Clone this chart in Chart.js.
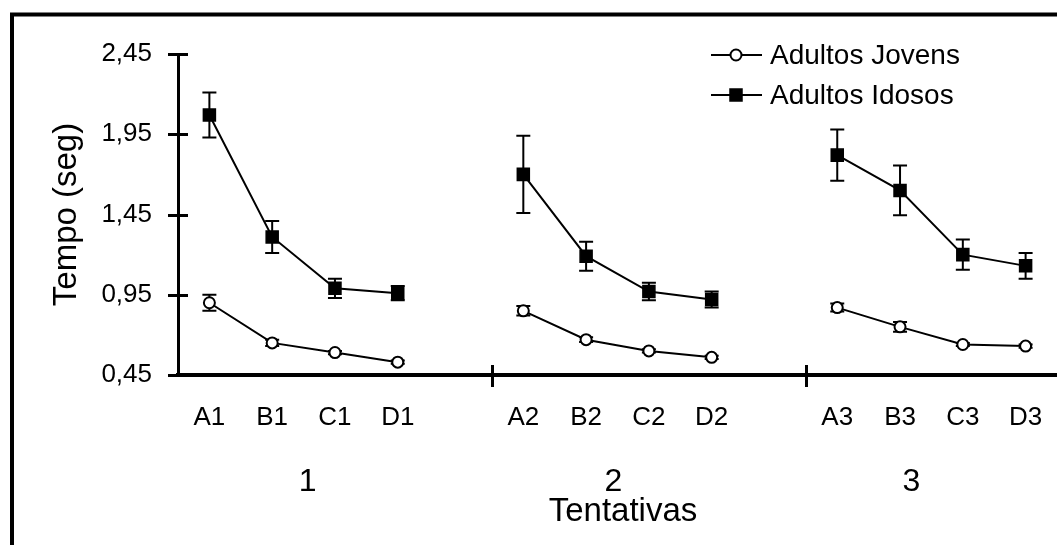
<!DOCTYPE html>
<html>
<head>
<meta charset="utf-8">
<script src="https://cdn.jsdelivr.net/npm/chart.js@4.4.1/dist/chart.umd.min.js"></script>
<style>
  html, body { margin: 0; padding: 0; background: #fff; }
  #wrap { width: 1057px; height: 545px; position: relative; }
</style>
</head>
<body>
<div id="wrap"><canvas id="c" width="1057" height="545"></canvas></div>
<script>
// Conditions inside each trial block, and the trial blocks themselves
const conditions = ['A', 'B', 'C', 'D'];
const trials = ['1', '2', '3'];
const yTicks = [0.45, 0.95, 1.45, 1.95, 2.45];

// Mean time (s) per trial block, conditions A..D
const jovensMean = [
  [0.90, 0.65, 0.59, 0.53],
  [0.85, 0.67, 0.60, 0.56],
  [0.87, 0.75, 0.64, 0.63]
];
const jovensErr = [
  [0.05, 0.02, 0.01, 0.01],
  [0.03, 0.015, 0.01, 0.01],
  [0.025, 0.03, 0.01, 0.01]
];
const idososMean = [
  [2.07, 1.31, 0.99, 0.96],
  [1.70, 1.19, 0.97, 0.92],
  [1.82, 1.60, 1.20, 1.13]
];
const idososErr = [
  [0.14, 0.10, 0.06, 0.045],
  [0.24, 0.09, 0.055, 0.05],
  [0.16, 0.155, 0.095, 0.08]
];

// Flatten the blocks onto one category axis, with an empty slot between blocks
const labels = [];
const jovens = [], jovensE = [], idosos = [], idososE = [];
const spacerIdx = [];
const groupCenters = [];
trials.forEach((t, g) => {
  if (g > 0) {
    spacerIdx.push(labels.length);
    labels.push('');
    jovens.push(null); jovensE.push(null);
    idosos.push(null); idososE.push(null);
  }
  groupCenters.push(labels.length + 1.5);
  conditions.forEach((c, i) => {
    labels.push(c + t);
    jovens.push(jovensMean[g][i]);
    jovensE.push(jovensErr[g][i]);
    idosos.push(idososMean[g][i]);
    idososE.push(idososErr[g][i]);
  });
});

const FONT = "'Liberation Sans', Arial, Helvetica, sans-serif";
Chart.defaults.font.family = FONT;
Chart.defaults.color = '#000';

// Vertical error bars, drawn under the lines and markers
const errorBars = {
  id: 'errorBars',
  beforeDatasetsDraw(chart) {
    const { ctx, scales: { x, y } } = chart;
    ctx.save();
    ctx.strokeStyle = '#000';
    ctx.lineWidth = 2;
    chart.data.datasets.forEach(ds => {
      ds.data.forEach((v, i) => {
        const e = ds.errors[i];
        if (v == null || e == null) return;
        const px = x.getPixelForValue(i);
        const top = y.getPixelForValue(v + e);
        const bot = y.getPixelForValue(v - e);
        ctx.beginPath();
        ctx.moveTo(px, top); ctx.lineTo(px, bot);
        ctx.moveTo(px - 7, top); ctx.lineTo(px + 7, top);
        ctx.moveTo(px - 7, bot); ctx.lineTo(px + 7, bot);
        ctx.stroke();
      });
    });
    ctx.restore();
  }
};

// Outer frame, axis tick marks, block labels, axis title and legend
const decorations = {
  id: 'decorations',
  afterDraw(chart) {
    const { ctx, scales: { x, y }, chartArea } = chart;
    ctx.save();
    ctx.strokeStyle = '#000';

    // frame (left and top edges)
    ctx.lineWidth = 4;
    ctx.beginPath();
    ctx.moveTo(12, 545);
    ctx.lineTo(12, 14.5);
    ctx.lineTo(1057, 14.5);
    ctx.stroke();

    // y tick marks crossing the axis
    ctx.lineWidth = 3;
    ctx.beginPath();
    yTicks.forEach(v => {
      const py = Math.round(y.getPixelForValue(v)) + 0.5;
      ctx.moveTo(chartArea.left - 10, py);
      ctx.lineTo(chartArea.left + 10, py);
    });
    // separators between trial blocks
    spacerIdx.forEach(i => {
      const px = Math.round(x.getPixelForValue(i + 0.5)) + 0.5;
      ctx.moveTo(px, chartArea.bottom - 10);
      ctx.lineTo(px, chartArea.bottom + 12);
    });
    ctx.stroke();

    // trial block labels
    ctx.fillStyle = '#000';
    ctx.textAlign = 'center';
    ctx.textBaseline = 'middle';
    ctx.font = '32px ' + FONT;
    const nudge = [4, -4, -20];
    trials.forEach((t, g) => {
      ctx.fillText(t, x.getPixelForValue(groupCenters[g]) + nudge[g], 482);
    });
    ctx.font = '33px ' + FONT;
    ctx.fillText('Tentativas', 623, 512);

    // legend: line with marker, then label
    ctx.textAlign = 'left';
    ctx.font = '28px ' + FONT;
    const rows = [55, 95];
    chart.data.datasets.forEach((ds, k) => {
      const ly = rows[k];
      ctx.lineWidth = 2;
      ctx.strokeStyle = '#000';
      ctx.beginPath();
      ctx.moveTo(711, ly); ctx.lineTo(762, ly);
      ctx.stroke();
      ctx.fillStyle = ds.pointBackgroundColor;
      ctx.lineWidth = ds.pointBorderWidth;
      Chart.helpers.drawPoint(ctx, {
        pointStyle: ds.pointStyle, rotation: 0,
        radius: ds.pointRadius, borderWidth: ds.pointBorderWidth
      }, 736, ly);
      ctx.fillStyle = '#000';
      ctx.fillText(ds.label, 770, ly + 1);
    });
    ctx.restore();
  }
};

new Chart(document.getElementById('c'), {
  type: 'line',
  data: {
    labels: labels,
    datasets: [
      {
        label: 'Adultos Jovens',
        data: jovens,
        errors: jovensE,
        borderColor: '#000',
        borderWidth: 2,
        pointStyle: 'circle',
        pointRadius: 5.5,
        pointBorderWidth: 2,
        pointBackgroundColor: '#fff',
        pointBorderColor: '#000',
        spanGaps: false,
        tension: 0
      },
      {
        label: 'Adultos Idosos',
        data: idosos,
        errors: idososE,
        borderColor: '#000',
        borderWidth: 2,
        pointStyle: 'rect',
        pointRadius: 8.5,
        pointBorderWidth: 1.5,
        pointBackgroundColor: '#000',
        pointBorderColor: '#000',
        spanGaps: false,
        tension: 0
      }
    ]
  },
  options: {
    responsive: false,
    animation: false,
    devicePixelRatio: 1,
    layout: { autoPadding: false, padding: { top: 54, left: 0, right: 0, bottom: 0 } },
    plugins: {
      legend: { display: false },
      tooltip: { enabled: false }
    },
    scales: {
      x: {
        type: 'category',
        offset: true,
        grid: { display: false, drawTicks: false },
        border: { display: true, color: '#000', width: 4 },
        ticks: {
          autoSkip: false, maxRotation: 0, minRotation: 0,
          padding: 27,
          font: { size: 26 },
          color: '#000'
        },
        afterFit(s) {
          s.height = 170;
          s.paddingLeft = 0;
          s.paddingRight = 0;
        }
      },
      y: {
        type: 'linear',
        min: 0.45,
        max: 2.45,
        grid: { display: false, drawTicks: false },
        border: { display: true, color: '#000', width: 3 },
        afterBuildTicks(s) { s.ticks = yTicks.map(v => ({ value: v })); },
        ticks: {
          padding: 26,
          font: { size: 26 },
          color: '#000',
          callback: v => v.toFixed(2).replace('.', ',')
        },
        title: {
          display: true,
          text: 'Tempo (seg)',
          font: { size: 33 },
          color: '#000',
          padding: { top: 47, bottom: 0 }
        },
        afterFit(s) { s.width = 178; }
      }
    }
  },
  plugins: [errorBars, decorations]
});
</script>
</body>
</html>
